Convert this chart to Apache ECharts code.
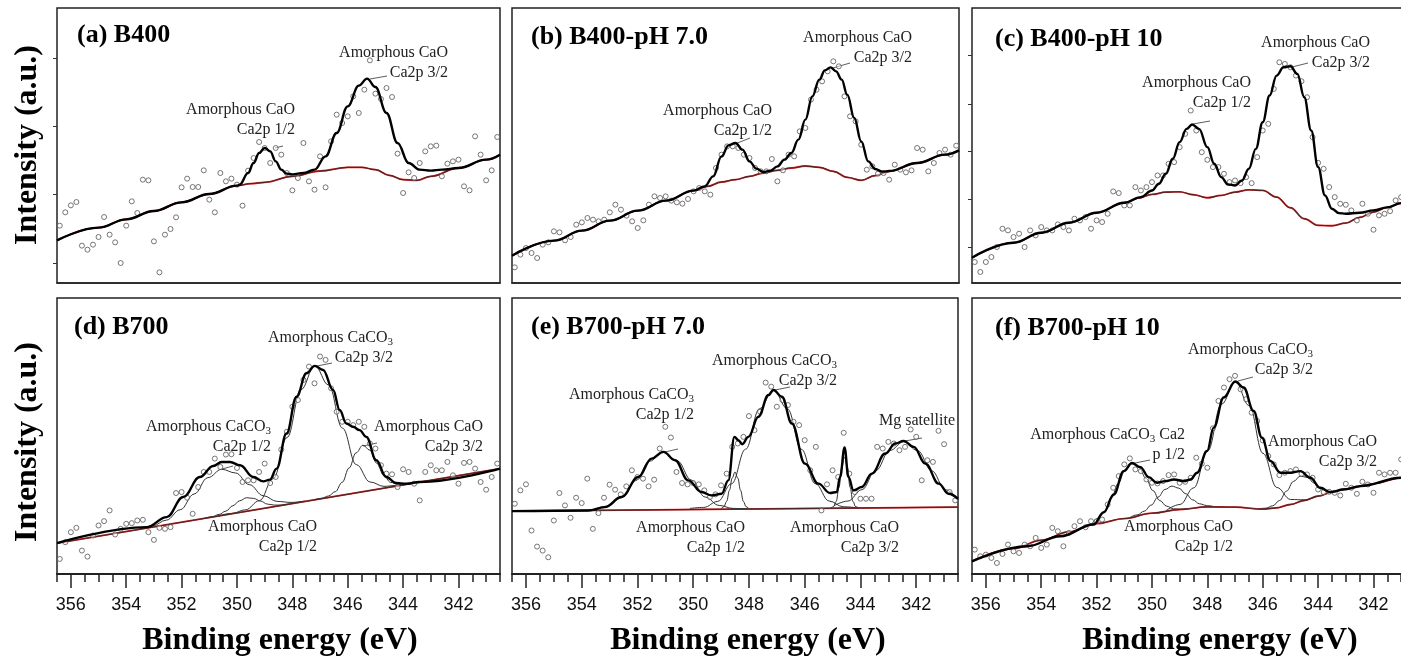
<!DOCTYPE html>
<html><head><meta charset="utf-8">
<script src="https://cdn.jsdelivr.net/npm/echarts@6/dist/echarts.min.js"></script>
<style>html,body{margin:0;padding:0;background:#fff;overflow:hidden;width:1401px;height:663px}#c{width:1420px;height:663px}</style>
</head><body><div id="c"></div>
<script>
// ---------- DATA ----------
const energyGrid = [356.4,356.2,356.0,355.8,355.6,355.4,355.2,355.0,354.8,354.6,354.4,354.2,354.0,353.8,353.6,353.4,353.2,353.0,352.8,352.6,352.4,352.2,352.0,351.8,351.6,351.4,351.2,351.0,350.8,350.6,350.4,350.2,350.0,349.8,349.6,349.4,349.2,349.0,348.8,348.6,348.4,348.2,348.0,347.8,347.6,347.4,347.2,347.0,346.8,346.6,346.4,346.2,346.0,345.8,345.6,345.4,345.2,345.0,344.8,344.6,344.4,344.2,344.0,343.8,343.6,343.4,343.2,343.0,342.8,342.6,342.4,342.2,342.0,341.8,341.6,341.4,341.2,341.0,340.8,340.6];
const xMajorTicks = [356,354,352,350,348,346,344,342];
const xMinorTicks = [356.5,356,355.5,355,354.5,354,353.5,353,352.5,352,351.5,351,350.5,350,349.5,349,348.5,348,347.5,347,346.5,346,345.5,345,344.5,344,343.5,343,342.5,342,341.5,341,340.5];

// (a) B400
const scatterA = [172,212,233,243,112,100,115,138,198,145, 122,60,172,245,210,310,308,125,32,145, 162,197,287,313,288,288,338,250,212,330, 305,313,295,232,337,375,423,405,360,405, 385,330,278,315,420,305,280,380,287,425, 505,480,500,560,510,580,668,568,552,585, 558,388,270,332,315,360,395,410,412,320, 358,365,370,290,278,440,385,308,338,438];
const bgA = [[356.5,128],[355,166],[354,191],[353,216],[352,242],[351,267],[350,292],[349.5,298],[349,302],[348,320],[347,336],[346,347],[345.5,347],[345,340],[344.5,323],[344,310],[343.5,308],[343,320],[342,345],[341,370],[340.5,385]];
const envA = [[356.5,128],[355,166],[354,191],[353,216],[352,242],[351,267],[350,292],[349.9,295],[349.6,330],[349.4,360],[349.2,390],[349.0,405],[348.8,395],[348.6,365],[348.4,340],[348.2,328],[348.0,326],[347.6,330],[347.2,340],[346.8,380],[346.4,450],[346.0,530],[345.6,592],[345.3,613],[345.0,588],[344.6,510],[344.2,420],[343.8,360],[343.4,340],[343.0,337],[342.6,340],[342,345],[341,370],[340.5,385]];

// (b) B400-pH 7.0
const scatterB = [47,85,105,90,75,115,122,155,152,128, 138,175,182,195,190,185,190,212,235,220, 202,185,165,188,235,260,255,260,247,242, 238,252,275,285,275,265,345,385,410,410, 405,385,375,345,335,335,372,305,338,385, 380,455,465,550,580,605,635,665,650,560, 500,485,415,340,350,328,330,310,355,340, 332,338,405,400,335,360,390,400,385,412];
const bgB = [[356.5,82],[355,127],[354,157],[353,187],[352,217],[351,247],[350,277],[349.5,290],[349,303],[348.5,310],[348,320],[347.5,330],[347,338],[346.5,345],[346,351],[345.5,347],[345,335],[344.5,317],[344,308],[343.5,322],[343,335],[342,360],[341,385],[340.5,398]];
const envB = [[356.5,82],[355,127],[354,157],[353,187],[352,217],[351,247],[350,277],[349.6,290],[349.3,320],[349.0,380],[348.75,413],[348.5,420],[348.25,400],[348.0,365],[347.75,343],[347.5,333],[347.25,337],[347.0,350],[346.75,370],[346.5,390],[346.25,430],[346.0,490],[345.75,560],[345.5,610],[345.3,638],[345.1,647],[344.9,635],[344.7,610],[344.5,565],[344.25,495],[344.0,425],[343.75,365],[343.5,342],[343.25,334],[343.0,336],[342,360],[341,385],[340.5,398]];

// (c) B400-pH 10
const scatterC = [63,33,63,78,108,163,158,138,148,108, 158,143,168,158,158,176,168,158,193,188, 198,163,188,183,208,275,270,233,233,288, 278,288,303,323,323,358,363,408,448,518, 458,393,370,348,348,328,303,308,300,318, 300,378,458,478,583,663,658,648,623,606, 558,438,361,343,288,258,238,235,218,188, 238,208,160,203,208,216,248,258,260,265];
const bgC = [[356.5,76],[355,121],[354,151],[353,181],[352,211],[351,241],[350.5,255],[350,266],[349.5,273],[349,274],[348.5,265],[348,256],[347.5,263],[347,273],[346.5,280],[346,278],[345.5,258],[345,226],[344.5,193],[344,173],[343.5,172],[343,180],[342.5,197],[342,213],[341.5,227],[341,240],[340.5,253]];
const envC = [[356.5,76],[355,121],[354,151],[353,181],[352,211],[351,241],[350.4,258],[350.0,278],[349.75,298],[349.5,328],[349.25,373],[349.0,423],[348.75,463],[348.55,476],[348.3,463],[348.0,408],[347.75,358],[347.5,318],[347.25,296],[347.0,293],[346.75,308],[346.5,343],[346.25,403],[346.0,483],[345.75,563],[345.5,623],[345.25,648],[345.0,651],[344.75,628],[344.5,558],[344.25,458],[344.0,348],[343.75,263],[343.5,223],[343.25,210],[343.0,208],[342.5,211],[342.0,218],[341.5,227],[341,240],[340.5,253]];

// (d) B700
const scatterD = [45,95,125,138,70,52,115,145,158,190, 118,135,150,152,160,162,125,102,138,135, 140,242,245,228,180,260,305,305,345,320, 357,358,317,275,280,280,305,330,272,290, 372,425,500,520,580,620,570,650,640,555, 485,455,455,445,455,440,390,375,325,300, 298,260,313,305,270,220,305,325,310,310, 335,295,270,332,335,315,275,252,290,330];
const bgD = [[356.5,92],[340.5,315]];
const envD = [[356.5,92],[353.26,140],[352.54,170],[351.94,230],[351.34,290],[350.86,323],[350.55,335],[350.25,335],[349.89,325],[349.41,290],[349.05,277],[348.81,282],[348.57,315],[348.21,420],[347.85,530],[347.49,600],[347.19,622],[346.89,610],[346.53,550],[346.29,490],[346.05,450],[345.81,440],[345.57,430],[345.33,410],[344.97,340],[344.61,290],[344.25,272],[343.89,270],[343.41,275],[340.5,315]];
const compD1 = [[353.55,133],[353.05,144],[352.55,161],[352.05,192],[351.55,239],[351.05,288],[350.55,313],[350.05,302],[349.55,267],[349.05,234],[348.55,217],[348.05,214],[347.55,218]];
const compD2 = [[351.15,167],[350.9,171],[350.65,178],[350.4,188],[350.15,204],[349.9,219],[349.65,228],[349.4,226],[349.15,218],[348.9,209],[348.65,206],[348.4,206],[348.15,209]];
const compD3 = [[350.69,173],[350.19,181],[349.69,192],[349.19,219],[348.69,285],[348.19,408],[347.69,551],[347.19,622],[346.69,565],[346.19,436],[345.69,327],[345.19,275],[344.69,262],[344.19,265],[343.69,271]];
const compD4 = [[347.2,222],[346.95,226],[346.7,233],[346.45,246],[346.2,274],[345.95,317],[345.7,362],[345.45,385],[345.2,370],[344.95,331],[344.7,295],[344.45,274],[344.2,268],[343.95,268],[343.7,271]];

// (e) B700-pH 7.0
const scatterE = [210,250,268,130,82,70,50,160,242,205, 168,228,212,285,135,182,228,267,252,238, 262,310,290,285,262,282,375,440,408,305, 272,268,272,268,250,230,238,265,300,380, 390,410,472,430,485,572,560,500,520,505, 455,445,400,310,380,190,268,310,290,422, 300,245,225,225,225,380,375,395,390,370, 380,432,410,280,340,335,428,388,245,220];
const bgE = [[356.5,188],[340.5,200]];
const envE = [[356.5,188],[353.77,190],[353.17,200],[352.57,230],[351.97,290],[351.49,345],[351.07,365],[350.65,340],[350.18,280],[349.70,245],[349.34,235],[348.98,240],[348.74,280],[348.52,410],[348.38,400],[348.24,388],[348.02,410],[347.66,470],[347.30,535],[347.12,550],[346.82,530],[346.46,450],[345.99,330],[345.51,270],[345.09,242],[344.85,245],[344.73,290],[344.57,378],[344.43,290],[344.25,250],[343.95,260],[343.59,300],[343.11,360],[342.75,390],[342.45,398],[342.09,380],[341.67,330],[341.19,270],[340.84,240],[340.5,225]];
const compE1 = [[353.57,192],[353.07,203],[352.57,228],[352.07,279],[351.57,337],[351.07,365],[350.57,338],[350.07,281],[349.57,230],[349.07,205],[348.57,196],[348.07,195]];
const compE2 = [[349.0,195],[348.9,201],[348.8,217],[348.7,250],[348.6,287],[348.5,305],[348.4,287],[348.3,250],[348.2,217],[348.1,201],[348.0,195]];
const compE3 = [[350.12,196],[349.62,199],[349.12,217],[348.62,270],[348.12,373],[347.62,494],[347.12,550],[346.62,494],[346.12,373],[345.62,270],[345.12,218],[344.62,201],[344.12,198]];
const compE4 = [[345.07,197],[344.97,201],[344.87,217],[344.77,259],[344.67,319],[344.57,350],[344.47,319],[344.37,259],[344.27,217],[344.17,201],[344.07,198]];
const compE5 = [[344.95,204],[344.45,218],[343.95,252],[343.45,309],[342.95,369],[342.45,395],[341.95,369],[341.45,309],[340.95,252],[340.5,222]];

// (f) B700-pH 10
const scatterF = [73,53,58,48,33,60,88,68,63,88, 83,108,78,88,138,128,83,123,143,158, 140,158,158,163,208,258,293,328,346,313, 308,283,273,271,278,296,298,273,276,288, 348,330,318,436,518,558,583,593,553,523, 483,458,400,353,328,296,303,308,313,300, 298,288,253,245,246,243,235,270,258,240, 276,268,243,303,298,303,303,343,300,305];
const bgF = [[356.5,38],[355,76],[354,101],[353,126],[352,151],[351,166],[350,182],[349,193],[348,201],[347,200],[346,194],[345.5,198],[345,208],[344.5,220],[344,233],[343.5,245],[343,255],[342,270],[341,288],[340.5,298]];
const envF = [[356.5,38],[354.51,83],[353.31,113],[352.11,148],[351.74,185],[351.38,238],[351.02,308],[350.72,332],[350.42,320],[350.12,290],[349.82,273],[349.52,278],[349.21,283],[348.85,278],[348.61,283],[348.37,303],[348.01,368],[347.77,438],[347.41,528],[346.99,576],[346.69,558],[346.33,488],[346.03,408],[345.72,338],[345.36,303],[345.0,303],[344.64,308],[344.28,288],[343.92,258],[343.56,245],[343.08,253],[342.48,263],[341,288],[340.5,298]];
const compF1 = [[352.47,140],[352.22,150],[351.97,166],[351.72,184],[351.47,227],[351.22,271],[350.97,311],[350.72,330],[350.47,319],[350.22,287],[349.97,250],[349.72,220],[349.47,203],[349.22,195],[348.97,194],[348.72,196]];
const compF2 = [[350.78,170],[350.53,177],[350.28,188],[350.03,206],[349.78,230],[349.53,253],[349.28,263],[349.03,257],[348.78,240],[348.53,222],[348.28,210],[348.03,205],[347.78,202]];
const compF3 = [[349.49,190],[348.99,208],[348.49,258],[347.99,368],[347.49,508],[346.99,576],[346.49,504],[345.99,361],[345.49,259],[344.99,223],[344.49,222],[343.99,234]];
const compF4 = [[346.14,195],[345.89,197],[345.64,204],[345.39,220],[345.14,248],[344.89,277],[344.64,293],[344.39,289],[344.14,272],[343.89,255],[343.64,247],[343.39,249],[343.14,254]];

const panelTitles = ['(a) B400','(b) B400-pH 7.0','(c) B400-pH 10','(d) B700','(e) B700-pH 7.0','(f) B700-pH 10'];
const yTickValues = [[60,265,470,675],[],[108,253,396,538,683],[],[],[]];

// ---------- LAYOUT ----------
const grids = [
  {left:57, top:8, width:443, height:275},
  {left:512, top:8, width:447, height:275},
  {left:972, top:8, width:443, height:275},
  {left:57, top:298, width:443, height:276},
  {left:512, top:298, width:446, height:276},
  {left:972, top:298, width:443, height:276}
];
const yMax = [825,825,826,825,825,826];
const panels = [
  {scatter:scatterA, bg:bgA, env:envA, comps:[]},
  {scatter:scatterB, bg:bgB, env:envB, comps:[]},
  {scatter:scatterC, bg:bgC, env:envC, comps:[]},
  {scatter:scatterD, bg:bgD, env:envD, comps:[compD1,compD2,compD3,compD4]},
  {scatter:scatterE, bg:bgE, env:envE, comps:[compE1,compE2,compE3,compE4,compE5]},
  {scatter:scatterF, bg:bgF, env:envF, comps:[compF1,compF2,compF3,compF4]}
];

const xAxes = [], yAxes = [], series = [];
grids.forEach((g, i) => {
  const bottomRow = i >= 3;
  const base = {gridIndex:i, type:'value', position:'bottom', offset:0, min:340.5, max:356.5, inverse:true, splitLine:{show:false}};
  const xi = xAxes.length;
  xAxes.push(Object.assign({}, base, {
    axisLine:{show:true, onZero:false, lineStyle:{color:'#222', width: bottomRow?2:1.5}},
    axisTick:bottomRow ? {show:true, customValues:xMinorTicks, length:8, lineStyle:{color:'#222', width:1.5}} : {show:false},
    axisLabel:{show:false}
  }));
  if (bottomRow) {
    xAxes.push(Object.assign({}, base, {
      axisLine:{show:false, onZero:false},
      axisTick:{show:true, customValues:xMajorTicks, length:14, lineStyle:{color:'#222', width:1.5}},
      axisLabel:{show:true, customValues:xMajorTicks, fontSize:18, fontFamily:'"Liberation Sans", Arial, sans-serif', color:'#111', margin:22}
    }));
  }
  const yi = yAxes.length;
  yAxes.push({gridIndex:i, type:'value', position:'left', min:0, max:yMax[i], splitLine:{show:false},
    axisLine:{show:false}, axisLabel:{show:false},
    axisTick: yTickValues[i].length ? {show:true, customValues:yTickValues[i], length:4, lineStyle:{color:'#333'}} : {show:false}});

  const p = panels[i];
  const lineBase = {type:'line', xAxisIndex:xi, yAxisIndex:yi, symbol:'none', smooth:0.4, smoothMonotone:'x', animation:false, silent:true};
  series.push(Object.assign({}, lineBase, {data:p.bg, z:2, lineStyle:{color:'#e02020', width:1.8}}));
  series.push(Object.assign({}, lineBase, {data:p.bg, z:3, lineStyle:{color:'#4a2626', width:1.1}}));
  p.comps.forEach(c => series.push(Object.assign({}, lineBase, {data:c, z:3, lineStyle:{color:'#333', width:1}})));
  series.push({type:'scatter', xAxisIndex:xi, yAxisIndex:yi, animation:false, silent:true, z:4,
    data: energyGrid.map((e, k) => [e, p.scatter[k]]),
    symbol:'circle', symbolSize:5,
    itemStyle:{color:'rgba(255,255,255,0.6)', borderColor:'#555', borderWidth:1}});
  series.push(Object.assign({}, lineBase, {data:p.env, z:5, lineStyle:{color:'#000', width:2.4}}));
});

// ---------- TEXT ----------
const serif = '"Liberation Serif", "Times New Roman", serif';
const annFont = '16px ' + serif;
const rich = {s:{fontSize:11, fontFamily:'Liberation Serif', verticalAlign:'bottom', lineHeight:8, fill:'#222'}};
const annotations = [
  [295,119.5,'Amorphous CaO\nCa2p 1/2'],
  [448,63,'Amorphous CaO\nCa2p 3/2'],
  [772,121,'Amorphous CaO\nCa2p 1/2'],
  [912,48,'Amorphous CaO\nCa2p 3/2'],
  [1251,93,'Amorphous CaO\nCa2p 1/2'],
  [1370,53,'Amorphous CaO\nCa2p 3/2'],
  [393,348,'Amorphous CaCO{s|3}\nCa2p 3/2'],
  [271,436.5,'Amorphous CaCO{s|3}\nCa2p 1/2'],
  [483,436.5,'Amorphous CaO\nCa2p 3/2'],
  [317,537,'Amorphous CaO\nCa2p 1/2'],
  [694,404.5,'Amorphous CaCO{s|3}\nCa2p 1/2'],
  [837,370.5,'Amorphous CaCO{s|3}\nCa2p 3/2'],
  [955,421,'Mg satellite'],
  [745,537.5,'Amorphous CaO\nCa2p 1/2'],
  [899,537.5,'Amorphous CaO\nCa2p 3/2'],
  [1313,359.5,'Amorphous CaCO{s|3}\nCa2p 3/2'],
  [1185,445,'Amorphous CaCO{s|3} Ca2\np 1/2'],
  [1377,451.5,'Amorphous CaO\nCa2p 3/2'],
  [1233,537,'Amorphous CaO\nCa2p 1/2']
];
const leaders = [
  [275,148,283,146],[370,79,387,76],[735,144,750,138],[833,68,850,63],[1193,124,1210,121],[1292,67,1308,63],
  [317,366,332,363],[222,469,233,466],[363,446,377,443],
  [665,452,678,449],[775,390,790,387],[905,441,922,438],
  [1238,381,1253,377],[1135,463,1150,460]
];
const titlePos = [[77,35],[531,37],[995,39],[74,327],[531,327],[995,328]];
const graphic = [];
panelTitles.forEach((t, i) => graphic.push({type:'text', x:titlePos[i][0], y:titlePos[i][1], silent:true,
  style:{text:t, font:'bold 26px ' + serif, fill:'#000', align:'left', verticalAlign:'middle'}}));
annotations.forEach(a => graphic.push({type:'text', x:a[0], y:a[1], silent:true,
  style:{text:a[2], font:annFont, fill:'#222', align:'right', verticalAlign:'middle', lineHeight:20, rich:rich}}));
leaders.forEach(l => graphic.push({type:'line', silent:true, shape:{x1:l[0], y1:l[1], x2:l[2], y2:l[3]}, style:{stroke:'#333', lineWidth:0.8}}));
[145, 442].forEach(y => graphic.push({type:'text', x:28, y:y, rotation:Math.PI/2, silent:true,
  style:{text:'Intensity (a.u.)', font:'bold 32px ' + serif, fill:'#000', align:'center', verticalAlign:'middle'}}));
[280, 748, 1220].forEach(x => graphic.push({type:'text', x:x, y:641, silent:true,
  style:{text:'Binding energy (eV)', font:'bold 32px ' + serif, fill:'#000', align:'center', verticalAlign:'middle'}}));

const chart = echarts.init(document.getElementById('c'), null, {renderer:'canvas', width:1420, height:663});
chart.setOption({
  animation:false,
  backgroundColor:'#fff',
  grid: grids.map(g => Object.assign({show:true, borderColor:'#222', borderWidth:1.5, backgroundColor:'transparent'}, g)),
  xAxis: xAxes,
  yAxis: yAxes,
  series: series,
  graphic: graphic
});
</script></body></html>
